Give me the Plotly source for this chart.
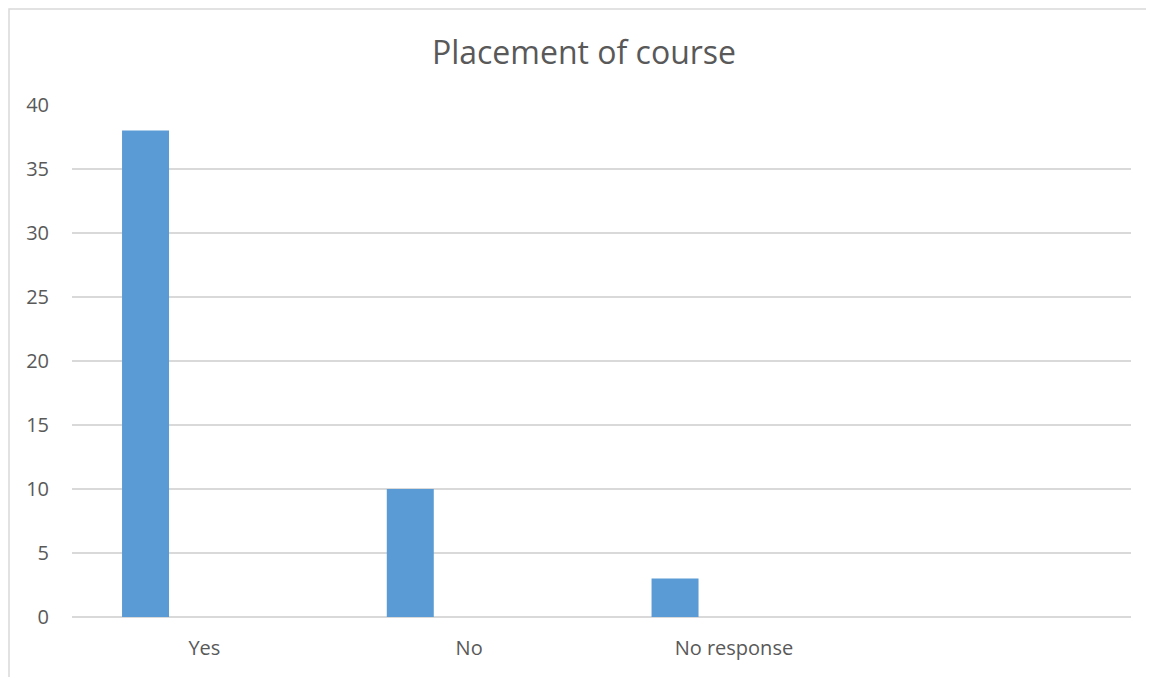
import plotly.graph_objects as go

categories = ["Yes", "No", "No response", " "]
values = [38, 10, 3, None]
y_ticks = [0, 5, 10, 15, 20, 25, 30, 35, 40]

# page body has an 8px margin; work in page pixels and subtract it
OFF = 8
W, H = 1154 - OFF, 677 - OFF
L, R, T, B = 72 - OFF, 1131 - OFF, 105 - OFF, 617 - OFF
pw, ph = R - L, B - T

def px_x(x):
    return (x - OFF - L) / pw

def px_y(y):
    return (B - (y - OFF)) / ph

fig = go.Figure()
fig.add_trace(go.Bar(
    x=categories, y=values,
    marker=dict(color="#5b9bd5", line=dict(width=0)),
    width=0.1775, offset=-0.311,
    hoverinfo="x+y",
))

grey = "#595959"
fig.update_layout(
    width=W, height=H,
    margin=dict(l=L, r=W - R, t=T, b=H - B),
    paper_bgcolor="white", plot_bgcolor="white",
    showlegend=False,
    font=dict(family="Open Sans", color=grey, size=20),
    title=dict(text="Placement of course", xref="container", x=(584 - OFF) / W,
               xanchor="center", yref="container", y=1 - (53 - OFF) / H,
               yanchor="middle",
               font=dict(family="Open Sans", size=32, color=grey)),
    xaxis=dict(type="category", categoryorder="array", categoryarray=categories,
               range=[-0.5, 3.5], showgrid=False, zeroline=False, showline=False,
               ticks="", ticklabelstandoff=17, tickfont=dict(size=20, color=grey)),
    yaxis=dict(range=[0, 40], tickvals=y_ticks, showgrid=True, gridcolor="#d9d9d9",
               gridwidth=1.5, zeroline=True, zerolinecolor="#d9d9d9", zerolinewidth=1.5,
               showline=False, ticks="", ticklabelstandoff=22,
               tickfont=dict(size=20, color=grey)),
    shapes=[dict(type="rect", xref="paper", yref="paper",
                 x0=px_x(9), x1=px_x(1170), y0=px_y(700), y1=px_y(9),
                 line=dict(color="#d9d9d9", width=1.5), fillcolor="rgba(0,0,0,0)",
                 layer="below")],
)

fig.write_html("out.html")
